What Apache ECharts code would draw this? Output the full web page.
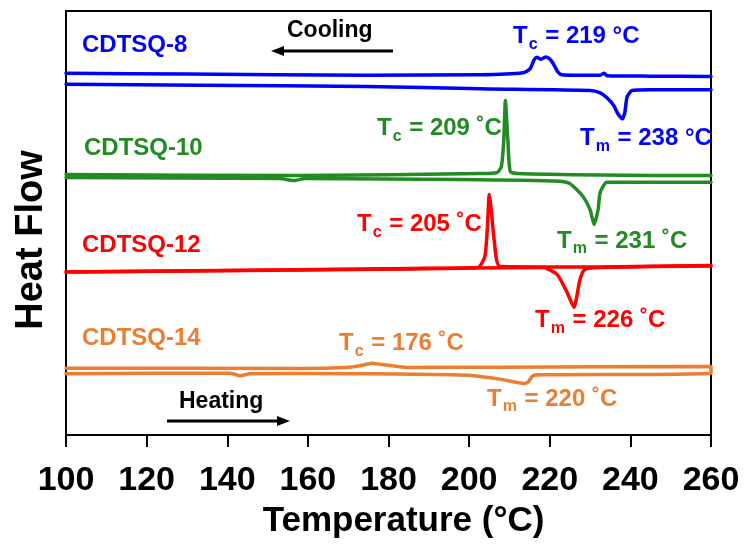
<!DOCTYPE html>
<html>
<head>
<meta charset="utf-8">
<title>DSC curves</title>
<script src="https://cdn.jsdelivr.net/npm/echarts@6/dist/echarts.min.js"></script>
<style>
  html, body { margin: 0; padding: 0; background: #fff; }
  #chart { width: 746px; height: 544px; }
</style>
</head>
<body>
<div id="chart"></div>
<script>
// Temperature ticks (°C)
var tempTicks = [100, 120, 140, 160, 180, 200, 220, 240, 260];

// Sample names and their transition temperatures (°C)
var samples = ['CDTSQ-8', 'CDTSQ-10', 'CDTSQ-12', 'CDTSQ-14'];
var tcValues = [219, 209, 205, 176];
var tmValues = [238, 231, 226, 220];
var colors = ['#0000FF', '#228B22', '#FF0000', '#ED7D31'];

// DSC traces: [temperature °C, heat flow (offset, a.u.)]
var cdtsq8Cooling = [
  [100, 362.7], [130, 361.8], [174.4, 360.7], [202.7, 361], [213.4, 363],
  [215.1, 367], [216.1, 376], [216.8, 378.7], [217.8, 376.7], [219.1, 379],
  [219.8, 377.5], [220.6, 374], [221.3, 369], [222.0, 364], [223.0, 361],
  [227.5, 360.5], [232.5, 360.5], [233.5, 362.7], [234.2, 360.2], [244.9, 359.7],
  [260, 359.3]
];
var cdtsq8Heating = [
  [100, 351.7], [133.2, 350.5], [174.4, 349.3], [202.7, 347], [230.0, 345.3],
  [232.5, 343], [234.2, 338], [235.9, 330], [236.9, 322], [238.0, 317],
  [238.6, 323], [239.2, 339], [240.4, 345.3], [244.9, 346], [260, 346]
];
var cdtsq10Cooling = [
  [100, 261], [158, 260], [202.7, 262], [206.9, 263], [208.0, 269],
  [208.6, 296], [209.0, 335.3], [209.6, 296], [210.2, 264], [211.9, 262],
  [232.5, 260.5], [260, 260]
];
var cdtsq10Heating = [
  [100, 258], [153.1, 257], [156.3, 255], [159.5, 257], [197.7, 256],
  [222.5, 254.3], [225.0, 252], [228.2, 239.3], [230.0, 226], [231.0, 211],
  [232.0, 226], [232.5, 243], [234.2, 253.3], [260, 253.3]
];
var cdtsq12Cooling = [
  [100, 163.3], [185.3, 167], [202.2, 168], [203.9, 179], [204.5, 206],
  [205.0, 241], [205.6, 221], [206.2, 196], [207.7, 169], [232.5, 168.5],
  [260, 170]
];
var cdtsq12Heating = [
  [100, 163.3], [185.3, 166.5], [218.3, 168], [221.8, 161], [224.3, 143],
  [226.0, 128], [227.5, 156], [228.7, 166], [232.5, 168], [260, 169.5]
];
// CDTSQ-14 was recorded as one continuous run: heating up, then cooling back down
var cdtsq14Heating = [
  [100, 61.5], [140.7, 62], [143.2, 59.3], [145.6, 61.5], [158, 61.7],
  [199.5, 60], [207.7, 56], [211.4, 53], [213.4, 51.7], [214.6, 53],
  [215.8, 59.3], [217.6, 60.3], [260, 62]
];
var cdtsq14Cooling = [
  [260, 68.7], [207.7, 68], [184.6, 67.7], [177.9, 71], [176.0, 72],
  [173.5, 70], [170.4, 68], [158, 66.7], [100, 67]
];

var FONT = "'Liberation Sans', Arial, sans-serif";

function lineSeries(name, data, color) {
  return {
    name: name,
    type: 'line',
    data: data,
    showSymbol: false,
    smooth: 0.2,
    clip: true,
    lineStyle: { color: color, width: 3.5, join: 'round', cap: 'round' },
    emphasis: { disabled: true },
    z: 3
  };
}

var series = [
  lineSeries('CDTSQ-8 cooling', cdtsq8Cooling, colors[0]),
  lineSeries('CDTSQ-8 heating', cdtsq8Heating, colors[0]),
  lineSeries('CDTSQ-10 cooling', cdtsq10Cooling, colors[1]),
  lineSeries('CDTSQ-10 heating', cdtsq10Heating, colors[1]),
  lineSeries('CDTSQ-12 cooling', cdtsq12Cooling, colors[2]),
  lineSeries('CDTSQ-12 heating', cdtsq12Heating, colors[2]),
  lineSeries('CDTSQ-14', cdtsq14Heating.concat(cdtsq14Cooling), colors[3])
];

// Text helpers
function plainText(x, y, text, color, size) {
  return {
    type: 'text', x: x, y: y, z: 10,
    style: {
      text: text, fill: color,
      font: 'bold ' + size + 'px ' + FONT,
      verticalAlign: 'middle', align: 'left'
    }
  };
}
var subRich = {
  t: { fontSize: 24, fontWeight: 'bold', fontFamily: FONT },
  s: { fontSize: 16, fontWeight: 'bold', fontFamily: FONT, padding: [16, 1, 0, 1] }
};
function transLabel(x, y, sub, value, deg, color) {
  return {
    type: 'text', x: x, y: y, z: 10,
    style: {
      text: '{t|T}{s|' + sub + '}{t| = ' + value + ' ' + deg + 'C}',
      rich: subRich, fill: color,
      verticalAlign: 'middle', align: 'left'
    }
  };
}
function arrow(x1, x2, y, headLeft) {
  var tip = headLeft ? x1 : x2;
  var dir = headLeft ? 1 : -1;
  return [
    { type: 'line', z: 10,
      shape: { x1: headLeft ? x1 + 8 : x1, y1: y, x2: headLeft ? x2 : x2 - 8, y2: y },
      style: { stroke: '#000', lineWidth: 3 } },
    { type: 'polygon', z: 10,
      shape: { points: [[tip, y], [tip + dir * 13, y - 5], [tip + dir * 13, y + 5]] },
      style: { fill: '#000' } }
  ];
}

var graphics = [
  plainText(82, 45.5, samples[0], colors[0], 24),
  plainText(84, 148.5, samples[1], colors[1], 24),
  plainText(82, 245, samples[2], colors[2], 24),
  plainText(82, 338.5, samples[3], colors[3], 24),
  plainText(287, 31, 'Cooling', '#000', 23),
  plainText(179, 401.5, 'Heating', '#000', 23),

  transLabel(513, 36.5, 'c', tcValues[0], '°', colors[0]),
  transLabel(580, 138.5, 'm', tmValues[0], '°', colors[0]),
  transLabel(377, 128.5, 'c', tcValues[1], '˚', colors[1]),
  transLabel(557, 241, 'm', tmValues[1], '˚', colors[1]),
  transLabel(357, 224.5, 'c', tcValues[2], '˚', colors[2]),
  transLabel(535, 320.5, 'm', tmValues[2], '˚', colors[2]),
  transLabel(339, 343.5, 'c', tcValues[3], '˚', colors[3]),
  transLabel(487, 399, 'm', tmValues[3], '˚', colors[3])
].concat(arrow(271, 393, 51, true), arrow(167, 290, 421, false));

var chart = echarts.init(document.getElementById('chart'), null, { renderer: 'canvas' });
chart.setOption({
  animation: false,
  backgroundColor: '#fff',
  grid: {
    left: 66, right: 35, top: 11, bottom: 108,
    show: true, borderColor: '#000', borderWidth: 2
  },
  xAxis: {
    type: 'value',
    min: tempTicks[0], max: tempTicks[tempTicks.length - 1], interval: 20,
    name: 'Temperature (°C)',
    nameLocation: 'middle', nameGap: 69,
    nameTextStyle: { fontFamily: FONT, fontWeight: 'bold', fontSize: 35, color: '#000', padding: [0, 0, 0, 30] },
    axisLine: { show: true, lineStyle: { color: '#000', width: 2 } },
    axisTick: { show: true, inside: false, length: 12, lineStyle: { color: '#000', width: 2 } },
    axisLabel: { fontFamily: FONT, fontWeight: 'bold', fontSize: 34, color: '#000', margin: 29 },
    splitLine: { show: false }
  },
  yAxis: {
    type: 'value',
    min: 0, max: 425,
    name: 'Heat Flow',
    nameLocation: 'middle', nameGap: 15,
    nameTextStyle: { fontFamily: FONT, fontWeight: 'bold', fontSize: 38, color: '#000', padding: [0, 34, 0, 0] },
    axisLine: { show: true, lineStyle: { color: '#000', width: 2 } },
    axisTick: { show: false },
    axisLabel: { show: false },
    splitLine: { show: false }
  },
  series: series,
  graphic: graphics
});
</script>
</body>
</html>
